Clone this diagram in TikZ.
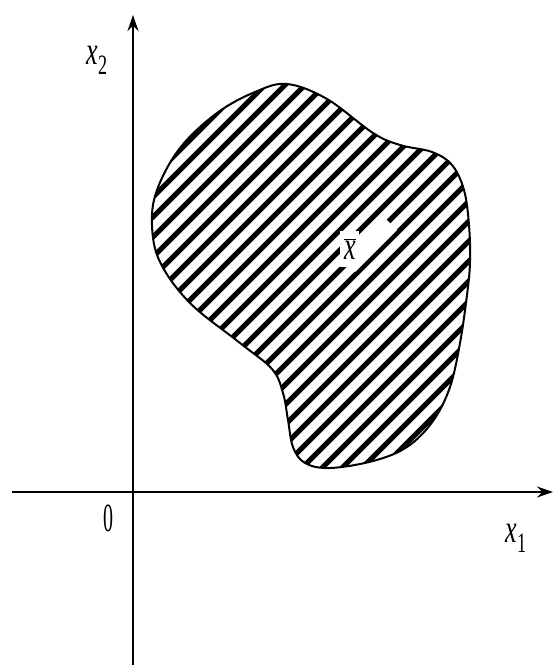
\documentclass[tikz,border=0pt]{standalone}
\usepackage{fontspec}
\setmainfont{Liberation Serif}
\usetikzlibrary{arrows.meta}
\tikzset{
  axis/.style={line width=2pt,-{Stealth[length=16pt,width=11pt]}},
  lab/.style={inner sep=0pt,font=\fontsize{40}{40}\selectfont},
  hatchline/.style={line width=5pt},
  outline/.style={line width=2pt},
}
\begin{document}
\begin{tikzpicture}[x=1pt,y=-1pt]
\useasboundingbox (0,0) rectangle (556,665);
% axes
\coordinate (ybot) at (133,665);
\coordinate (ytop) at (133,15);
\coordinate (xl) at (12,492);
\coordinate (xr) at (553,492);
\draw[axis] (ybot) -- (ytop);
\draw[axis] (xl) -- (xr);
% region
\path[save path=\blobp] plot[smooth cycle, tension=0.6] coordinates {
(287,84) (327,99) (373,133) (400,145) (432,152) (452,165) (464,190) (469,225)
(470,262) (467,295) (460,343) (450,387) (433,421) (407,447) (373,461) (330,468)
(305,463) (293,447) (288,420) (283,393) (272,369) (240,343) (190,303) (160,262)
(152,225) (157,190) (180,148) (217,113) (255,92)};
\begin{scope}
\clip[use path=\blobp];
\foreach \c in {230,250,...,950} {
  \draw[hatchline] (\c,0) -- (\c-700,700);
}
\fill[white] (397,230) -- (385,218) -- (343,260) -- (355,272) -- cycle;
\fill[white] (340,231) rectangle (359,267);
\end{scope}
\draw[outline,use path=\blobp];
% labels
\node[lab] (x2) at (97,60) {\scalebox{0.65}[1]{\textit{x}\textsubscript{2}}};
\node[lab] (x1) at (516,538) {\scalebox{0.65}[1]{\textit{x}\textsubscript{1}}};
\node[lab] (o) at (108,518) {\scalebox{0.5}[1]{0}};
\node[lab] (xbar) at (350,249) {\scalebox{0.65}[1]{$\overline{\mbox{\textit{x}}}$}};
\end{tikzpicture}
\end{document}
